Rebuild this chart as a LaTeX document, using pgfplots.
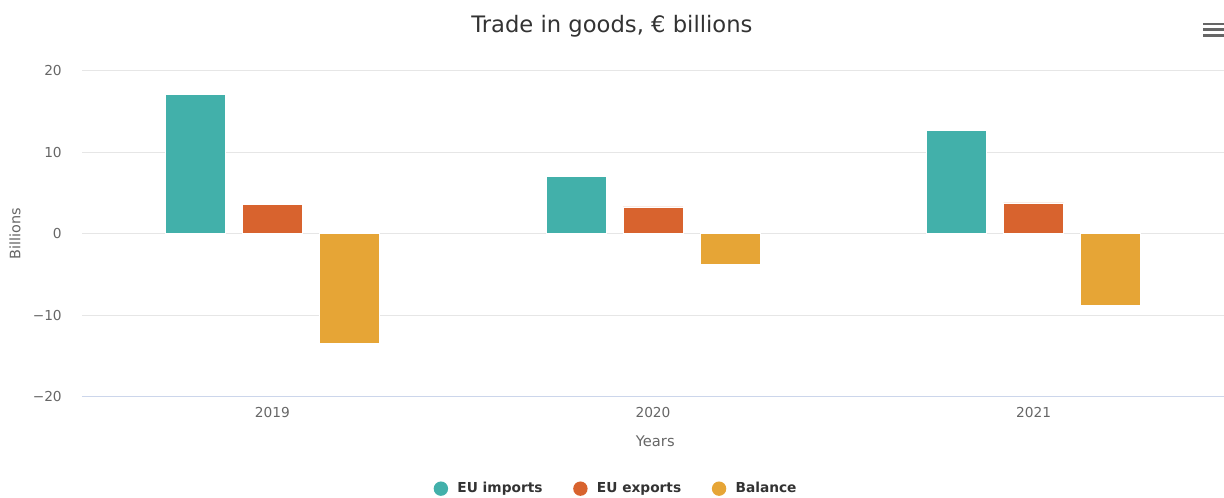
\documentclass[border=0pt]{standalone}
\usepackage{fontspec}
\setmainfont{DejaVu Sans}
\usepackage{pgfplots}
\pgfplotsset{compat=1.18}

\definecolor{cimp}{RGB}{66,176,170}
\definecolor{cexp}{RGB}{216,99,46}
\definecolor{cbal}{RGB}{230,165,54}
\definecolor{cgrid}{RGB}{230,230,230}
\definecolor{caxis}{RGB}{204,214,235}
\definecolor{ctick}{RGB}{102,102,102}
\definecolor{ctitle}{RGB}{51,51,51}

\pgfplotsset{
  dotleg/.style={legend image code/.code={\fill[##1,draw=none] (4pt,0) circle (5.4pt);}},
}

\begin{document}
\begin{tikzpicture}
\useasboundingbox (0,0) rectangle (918pt,372.75pt);
\begin{axis}[
    at={(61.5pt,75.2pt)}, anchor=south west,
    scale only axis,
    width=856.5pt, height=244.5pt,
    ybar,
    bar width=45pt,
    xmin=-0.5, xmax=2.5,
    ymin=-20, ymax=20,
    enlargelimits=false,
    xtick={0,1,2},
    xticklabels={2019,2020,2021},
    ytick={-20,-10,0,10,20},
    yticklabels={−20,−10,0,10,20},
    major tick length=0pt,
    axis line style={draw=none},
    ymajorgrids=true,
    grid style={cgrid, line width=0.75pt},
    /pgf/number format/assume math mode=true,
    tick label style={font=\fontsize{10.3}{12}\selectfont, text=ctick},
    yticklabel style={inner sep=0pt, xshift=-15pt},
    xticklabel style={inner sep=0pt, yshift=-8pt},
    xlabel={Years},
    xlabel style={at={(axis description cs:0.502,-0.136)}, anchor=center, font=\fontsize{11}{13}\selectfont, text=ctick},
    ylabel={Billions},
    ylabel style={at={(axis description cs:-0.0587,0.5)}, anchor=center, rotate=0, font=\fontsize{10.8}{12}\selectfont, text=ctick},
    title={Trade in goods, € billions},
    title style={at={(axis description cs:0.464,1.112)}, anchor=center, yshift=0pt, font=\fontsize{17}{20}\selectfont, text=ctitle},
    legend columns=3,
    legend style={at={(axis description cs:0.468,-0.282)}, anchor=center, draw=none, fill=none,
      font=\bfseries\fontsize{10.3}{12}\selectfont, text=ctitle,
      nodes={text height=0.75em, text depth=0.22em},
      /tikz/every even column/.append style={column sep=21pt},
      /tikz/every odd column/.append style={column sep=5pt}},
]
\addplot[fill=cimp, draw=white, line width=0.4pt, bar shift=-57.75pt, dotleg] coordinates {(0,17.1) (1,7.0) (2,12.7)};
\addlegendentry{EU imports}
\addplot[fill=cexp, draw=white, line width=0.4pt, bar shift=0pt, dotleg] coordinates {(0,3.6) (1,3.3) (2,3.8)};
\addlegendentry{EU exports}
\addplot[fill=cbal, draw=white, line width=0.4pt, bar shift=57.75pt, dotleg] coordinates {(0,-13.5) (1,-3.7) (2,-8.8)};
\addlegendentry{Balance}
\draw[caxis, line width=0.75pt] (rel axis cs:0,0) -- (rel axis cs:1,0);
\end{axis}
% menu icon
\foreach \yy in {354.75,350.6,346.1}
  \fill[ctick] (902.5pt,\yy pt+1pt) rectangle (918pt,\yy pt-1pt);
\end{tikzpicture}
\end{document}
